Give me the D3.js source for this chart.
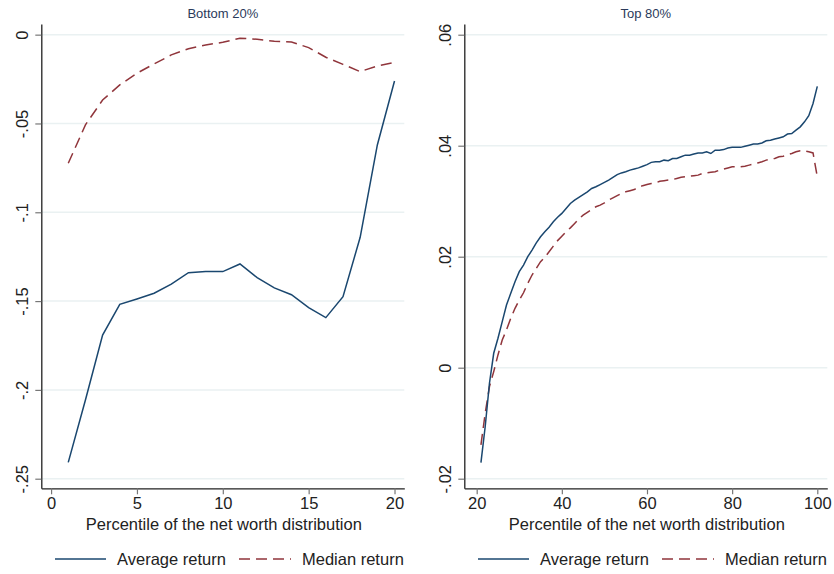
<!DOCTYPE html>
<html>
<head>
<meta charset="utf-8">
<script src="https://cdn.jsdelivr.net/npm/d3@7"></script>
<style>
  html, body { margin: 0; padding: 0; background: #fff; }
  svg { display: block; font-family: "Liberation Sans", Arial, Helvetica, sans-serif; }
</style>
</head>
<body>
<svg id="chart" width="834" height="574"></svg>
<script>
// Percentiles of the net worth distribution
const bottomPct = d3.range(1, 21);
const topPct = d3.range(21, 101);

// Bottom 20%: average and median returns
const bottomAvg = [-0.2408, -0.2057, -0.1691, -0.1518, -0.1488, -0.1456, -0.1404, -0.1340, -0.1334, -0.1334,
                   -0.1291, -0.1368, -0.1426, -0.1464, -0.1537, -0.1593, -0.1475, -0.1141, -0.0621, -0.0261];
const bottomMed = [-0.0724, -0.0508, -0.0368, -0.0283, -0.0217, -0.0165, -0.0114, -0.0079, -0.0058, -0.0043,
                   -0.0020, -0.0026, -0.0037, -0.0041, -0.0073, -0.0127, -0.0167, -0.0208, -0.0176, -0.0156];

// Top 80%: average and median returns (percentiles 21..100)
const topAvg = [-0.0171, -0.0106, -0.0028, 0.0026, 0.0053, 0.0083, 0.0113, 0.0134, 0.0155, 0.0173,
                0.0185, 0.0200, 0.0212, 0.0225, 0.0236, 0.0245, 0.0253, 0.0263, 0.0271, 0.0278,
                0.0287, 0.0296, 0.0302, 0.0307, 0.0312, 0.0317, 0.0323, 0.0326, 0.0330, 0.0334,
                0.0338, 0.0343, 0.0348, 0.0351, 0.0353, 0.0356, 0.0358, 0.0360, 0.0363, 0.0366,
                0.0370, 0.0371, 0.0371, 0.0374, 0.0373, 0.0377, 0.0377, 0.0380, 0.0383, 0.0383,
                0.0385, 0.0387, 0.0387, 0.0389, 0.0386, 0.0392, 0.0392, 0.0393, 0.0396, 0.0397,
                0.0397, 0.0397, 0.0399, 0.0401, 0.0403, 0.0403, 0.0405, 0.0409, 0.0410, 0.0412,
                0.0414, 0.0416, 0.0421, 0.0422, 0.0428, 0.0434, 0.0443, 0.0454, 0.0476, 0.0507];
const topMed = [-0.0139, -0.0082, -0.0034, -0.0007, 0.0023, 0.0050, 0.0068, 0.0089, 0.0107, 0.0122,
                0.0135, 0.0152, 0.0167, 0.0179, 0.0191, 0.0199, 0.0209, 0.0219, 0.0229, 0.0237,
                0.0245, 0.0252, 0.0260, 0.0268, 0.0275, 0.0280, 0.0285, 0.0290, 0.0293, 0.0297,
                0.0302, 0.0306, 0.0310, 0.0314, 0.0317, 0.0319, 0.0321, 0.0325, 0.0328, 0.0330,
                0.0332, 0.0333, 0.0336, 0.0337, 0.0338, 0.0339, 0.0341, 0.0343, 0.0344, 0.0345,
                0.0346, 0.0347, 0.0350, 0.0351, 0.0352, 0.0353, 0.0356, 0.0358, 0.0360, 0.0362,
                0.0362, 0.0362, 0.0363, 0.0365, 0.0367, 0.0369, 0.0371, 0.0374, 0.0376, 0.0377,
                0.0380, 0.0381, 0.0384, 0.0386, 0.0389, 0.0391, 0.0391, 0.0389, 0.0387, 0.0344];

// Axis ticks and labels
const bottomXTicks = [0, 5, 10, 15, 20];
const bottomYTicks = [0, -0.05, -0.1, -0.15, -0.2, -0.25];
const bottomYLabels = ["0", "-.05", "-.1", "-.15", "-.2", "-.25"];
const topXTicks = [20, 40, 60, 80, 100];
const topYTicks = [0.06, 0.04, 0.02, 0, -0.02];
const topYLabels = [".06", ".04", ".02", "0", "-.02"];

const panelTitles = ["Bottom 20%", "Top 80%"];
const seriesNames = ["Average return", "Median return"];
const xTitle = "Percentile of the net worth distribution";

const avgColor = "#1a476f";
const medColor = "#90353b";
const gridColor = "#eaf1f2";
const dash = "11,6";

const svg = d3.select("#chart");

const panels = [
  {
    title: panelTitles[0], x: bottomPct, avg: bottomAvg, med: bottomMed,
    xDomain: [-0.57, 20.57], xRange: [41.3, 404.3],
    yDomain: [-0.2554, 0.006], yRange: [488.3, 24],
    xTicks: bottomXTicks, yTicks: bottomYTicks, yLabels: bottomYLabels,
    legendX: 55
  },
  {
    title: panelTitles[1], x: topPct, avg: topAvg, med: topMed,
    xDomain: [17.09, 102.35], xRange: [464.3, 827.3],
    yDomain: [-0.02173, 0.06193], yRange: [488.3, 24],
    xTicks: topXTicks, yTicks: topYTicks, yLabels: topYLabels,
    legendX: 478
  }
];

panels.forEach(p => {
  const x = d3.scaleLinear().domain(p.xDomain).range(p.xRange);
  const y = d3.scaleLinear().domain(p.yDomain).range(p.yRange);
  const g = svg.append("g");

  // horizontal gridlines
  g.append("g").selectAll("line").data(p.yTicks).join("line")
    .attr("x1", p.xRange[0]).attr("x2", p.xRange[1])
    .attr("y1", d => y(d)).attr("y2", d => y(d))
    .attr("stroke", gridColor).attr("stroke-width", 1.5);

  // y axis
  const yAxis = d3.axisLeft(y).tickValues(p.yTicks)
    .tickFormat((d, i) => p.yLabels[i]).tickSize(6).tickPadding(7).tickSizeOuter(0);
  const ya = g.append("g").attr("transform", `translate(${p.xRange[0]},0)`).call(yAxis);
  ya.select(".domain").attr("stroke", "#222").attr("stroke-width", 1.3);
  ya.selectAll(".tick line").attr("stroke", "#777").attr("stroke-width", 1.2);
  ya.selectAll(".tick text")
    .attr("font-size", 16.5).attr("fill", "#222")
    .attr("text-anchor", "middle")
    .attr("x", null).attr("dy", null)
    .attr("transform", "translate(-13,0) rotate(-90)")
    .attr("y", 0);

  // x axis
  const xAxis = d3.axisBottom(x).tickValues(p.xTicks).tickSize(6).tickPadding(3).tickSizeOuter(0);
  const xa = g.append("g").attr("transform", `translate(0,${p.yRange[0]})`).call(xAxis);
  xa.select(".domain").attr("stroke", "#222").attr("stroke-width", 1.3);
  xa.selectAll(".tick line").attr("stroke", "#777").attr("stroke-width", 1.2);
  xa.selectAll(".tick text").attr("font-size", 16.5).attr("fill", "#222");

  // axis title
  g.append("text")
    .attr("x", (p.xRange[0] + p.xRange[1]) / 2 + 1).attr("y", 530)
    .attr("text-anchor", "middle").attr("font-size", 16.5).attr("fill", "#222")
    .text(xTitle);

  // panel title
  g.append("text")
    .attr("x", (p.xRange[0] + p.xRange[1]) / 2).attr("y", 18)
    .attr("text-anchor", "middle").attr("font-size", 13).attr("fill", "#2b3a5a")
    .text(p.title);

  const line = d3.line().x((d, i) => x(p.x[i])).y(d => y(d));

  g.append("path").datum(p.med)
    .attr("d", line).attr("fill", "none")
    .attr("stroke", medColor).attr("stroke-width", 1.5)
    .attr("stroke-dasharray", dash);
  g.append("path").datum(p.avg)
    .attr("d", line).attr("fill", "none")
    .attr("stroke", avgColor).attr("stroke-width", 1.5);

  // legend
  const lg = g.append("g").attr("transform", `translate(${p.legendX},559)`);
  lg.append("line").attr("x1", 0).attr("x2", 51).attr("y1", 0).attr("y2", 0)
    .attr("stroke", avgColor).attr("stroke-width", 1.5);
  lg.append("text").attr("x", 62).attr("y", 6).attr("font-size", 16.5).attr("fill", "#222")
    .text(seriesNames[0]);
  lg.append("line").attr("x1", 184).attr("x2", 236).attr("y1", 0).attr("y2", 0)
    .attr("stroke", medColor).attr("stroke-width", 1.5).attr("stroke-dasharray", dash);
  lg.append("text").attr("x", 247).attr("y", 6).attr("font-size", 16.5).attr("fill", "#222")
    .text(seriesNames[1]);
});
</script>
</body>
</html>
